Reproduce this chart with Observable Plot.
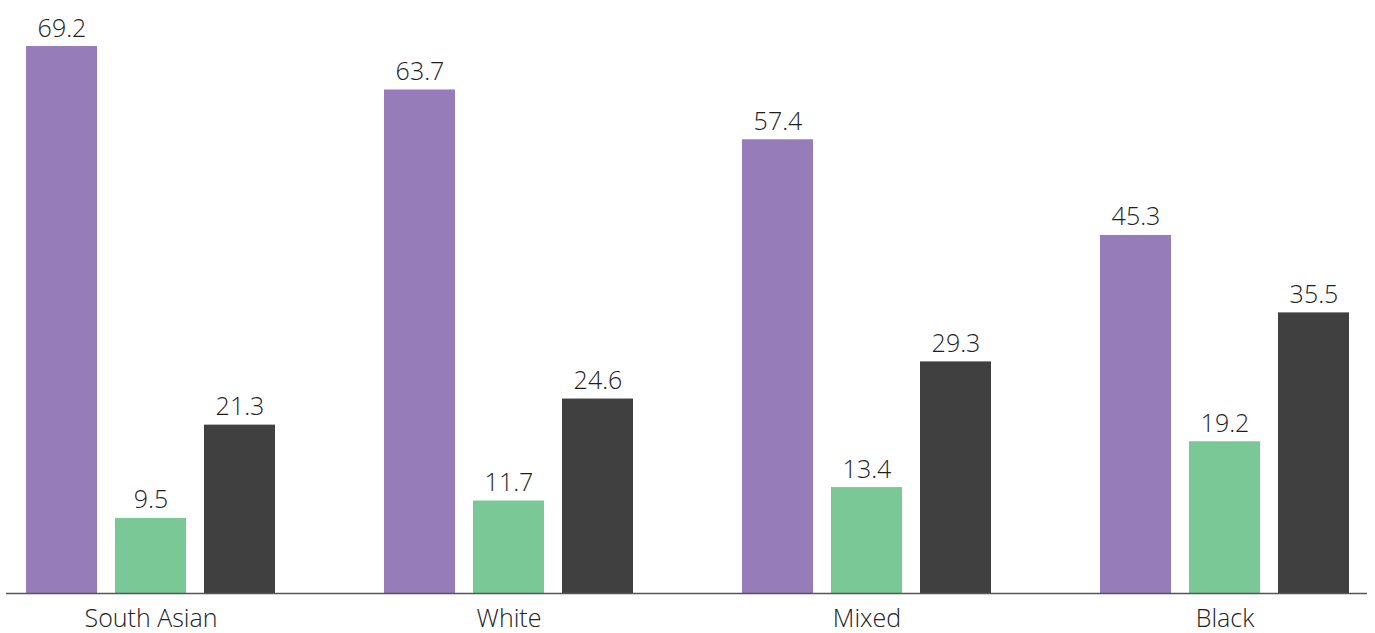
<!DOCTYPE html>
<html>
<head>
<meta charset="utf-8">
<script src="https://cdn.jsdelivr.net/npm/d3@7"></script>
<script src="https://cdn.jsdelivr.net/npm/@observablehq/plot@0.6"></script>
<style>
  html, body { margin: 0; padding: 0; background: #fff; }
  #chart { width: 1375px; height: 633px; overflow: hidden; }
</style>
</head>
<body>
<div id="chart"></div>
<script>
const groups = ["South Asian", "White", "Mixed", "Black"];
const series = ["A", "B", "C"];
const seriesA = [69.2, 63.7, 57.4, 45.3];
const seriesB = [9.5, 11.7, 13.4, 19.2];
const seriesC = [21.3, 24.6, 29.3, 35.5];
const colors = ["#967db9", "#7ac896", "#404040"];

const values = [seriesA, seriesB, seriesC];
const data = [];
groups.forEach((g, i) => {
  series.forEach((s, j) => data.push({group: g, series: s, value: values[j][i]}));
});

const fontFamily = "'Open Sans', Lato, sans-serif";

const plot = Plot.plot({
  width: 1375,
  height: 633,
  marginTop: 46,
  marginBottom: 40,
  marginLeft: 0,
  marginRight: 0,
  style: {fontFamily, fontSize: "25px", fontWeight: 300, color: "#222", background: "#fff"},
  fx: {domain: groups, paddingInner: 0.3, paddingOuter: 0.07, label: null, tickSize: 0, tickPadding: 16},
  x: {domain: series, paddingInner: 0.2, paddingOuter: 0, axis: null},
  y: {domain: [0, 69.2], axis: null},
  color: {domain: series, range: colors},
  marks: [
    Plot.barY(data, {fx: "group", x: "series", y: "value", fill: "series"}),
    Plot.text(data, {fx: "group", x: "series", y: "value", text: d => d.value.toFixed(1),
      lineAnchor: "bottom", dy: -10, fontSize: 25, fill: "#1e1e1e"})
  ]
});

document.getElementById("chart").appendChild(plot);

// baseline axis line spanning the chart
const y0 = plot.scale("y").apply(0);
d3.select(plot).append("line")
  .attr("x1", 6).attr("x2", 1367)
  .attr("y1", y0 + 0.5).attr("y2", y0 + 0.5)
  .attr("stroke", "#555").attr("stroke-width", 1.3);
</script>
</body>
</html>
